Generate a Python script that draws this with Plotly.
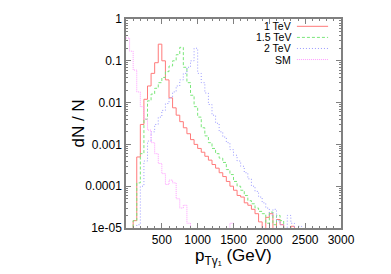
import numpy as np
import plotly.graph_objects as go

# bin left edges (GeV), 50 GeV bins
bin_edges = list(range(0, 2550, 50))

# dN/N per bin (0 = empty bin)
tev1 = [0, 0, 1.5e-5, 5e-4, 3e-3, 0.012, 0.025, 0.05, 0.09, 0.25,
        0.1, 0.035, 0.013, 0.0075, 0.005, 0.0035, 0.0025, 0.0018, 0.0013, 0.001,
        0.0008, 0.00065, 0.00052, 0.00042, 0.00033, 0.00027, 0.00021, 0.00017, 0.00013, 0.0001,
        8e-5, 6e-5, 5.5e-5, 4e-5, 3.5e-5, 2.8e-5, 2.2e-5, 1.4e-5, 0, 1.8e-5,
        2.2e-5, 0, 1.6e-5, 1.2e-5, 0, 0, 1.1e-5, 0, 0, 0]
tev15 = [0, 0, 1.5e-5, 1.2e-4, 6e-4, 0.004, 0.011, 0.016, 0.022, 0.03,
         0.04, 0.055, 0.075, 0.1, 0.14, 0.21, 0.07, 0.03, 0.015, 0.008,
         0.0045, 0.0025, 0.0016, 0.0011, 0.0008, 0.0006, 0.00047, 0.00037, 0.00025, 0.00019,
         0.00013, 1e-4, 8e-5, 6e-5, 4.5e-5, 3.8e-5, 3e-5, 2.5e-5, 2.2e-5, 1.3e-5,
         2.4e-5, 1.2e-5, 2e-5, 1.5e-5, 0, 0, 0, 0, 0, 0]
tev2 = [0, 0, 0, 1.2e-5, 1e-4, 4e-4, 1.2e-3, 2e-3, 3e-3, 4.5e-3,
        6.5e-3, 9.5e-3, 0.013, 0.018, 0.025, 0.035, 0.05, 0.07, 0.1, 0.2,
        0.05, 0.03, 0.017, 0.009, 0.005, 0.0032, 0.002, 0.0015, 0.0011, 0.00075,
        0.00055, 0.0004, 0.0003, 0.00021, 0.00015, 0.0001, 7.5e-5, 5.5e-5, 4e-5, 3e-5,
        2e-5, 2.8e-5, 1.5e-5, 1.2e-5, 0, 2e-5, 1.3e-5, 0, 1.1e-5, 0]
sm = [0.35, 0.17, 0.06, 0.018, 0.008, 0.004, 0.0022, 0.0011, 6e-4, 3.5e-4,
      2e-4, 1.1e-4, 1.4e-4, 1.2e-4, 5e-5, 3e-5, 3.5e-5, 1.3e-5, 0, 0,
      0, 0, 0, 0, 0, 0, 0, 0, 0, 1.3e-5,
      0, 0, 0, 0, 0, 0, 0, 0, 0, 0,
      0, 0, 0, 0, 0, 0, 0, 0, 0, 0]

series_names = ["1 TeV", "1.5 TeV", "2 TeV", "SM"]
series_vals = [tev1, tev15, tev2, sm]
colors = ["#ff7a7a", "#7ae67a", "#9a9aff", "#ff9cff"]
dashes = ["solid", "3px,2px", "1px,2px", "1px,1px"]

ytick_vals = [1, 0.1, 0.01, 0.001, 0.0001, 1e-5]
ytick_text = ["1", "0.1", "0.01", "0.001", "0.0001", "1e-05"]
xtick_vals = [500, 1000, 1500, 2000, 2500, 3000]

fig = go.Figure()
for name, vals, c, d in zip(series_names, series_vals, colors, dashes):
    n = len(vals)
    xs = bin_edges[:n] + [bin_edges[n - 1] + 50]
    ys = [v if v > 0 else 1e-9 for v in vals] + [1e-9]
    fig.add_trace(go.Scatter(x=xs, y=ys, mode="lines", line_shape="hv",
                             line=dict(color=c, width=1, dash=d),
                             name=name, showlegend=False, hoverinfo="skip"))

font = "Liberation Sans, Arial, sans-serif"
minor_y = [m * 10.0 ** e for e in range(-5, 0) for m in range(2, 10)]

fig.update_layout(
    width=391, height=274,
    margin=dict(l=126, r=50, t=14, b=46),
    paper_bgcolor="white", plot_bgcolor="white",
    font=dict(family=font, size=12, color="black"),
    xaxis=dict(range=[0, 3000], tickvals=xtick_vals, ticks="inside", ticklen=5,
               tickcolor="#808080", showline=True, linecolor="#808080", linewidth=1.5,
               mirror="ticks", showgrid=False, zeroline=False,
               minor=dict(dtick=100, ticks="inside", ticklen=2.5, tickcolor="#808080", showgrid=False),
               tickfont=dict(size=12)),
    yaxis=dict(type="log", range=[-5, 0], tickvals=ytick_vals, ticktext=ytick_text,
               ticks="inside", ticklen=5, tickcolor="#808080", showline=True,
               linecolor="#808080", linewidth=1.5, mirror="ticks", showgrid=False,
               zeroline=False,
               minor=dict(tickvals=minor_y, ticks="inside", ticklen=2.5, tickcolor="#808080", showgrid=False),
               tickfont=dict(size=12)),
)

# axis titles
fig.add_annotation(text="dN / N", x=-0.223, y=0.5, xref="paper", yref="paper",
                   textangle=-90, showarrow=False, font=dict(size=17),
                   xanchor="center", yanchor="middle")
fig.add_annotation(text="p<sub>Tγ₁</sub> (GeV)", x=0.5, y=-0.14, xref="paper", yref="paper",
                   showarrow=False, font=dict(size=17), xanchor="center", yanchor="middle")

# legend (text left of sample, as in reference)
leg_y = [0.965, 0.912, 0.859, 0.806]
for name, c, d, ly in zip(series_names, colors, dashes, leg_y):
    fig.add_annotation(text=name, x=0.772, y=ly, xref="paper", yref="paper",
                       showarrow=False, xanchor="right", yanchor="middle",
                       font=dict(size=10.5), borderpad=0)
    fig.add_shape(type="line", xref="paper", yref="paper", x0=0.795, x1=0.94, y0=ly, y1=ly,
                  line=dict(color=c, width=1, dash=d))

fig.write_html("out.html", post_script="document.body.style.margin='0px';",
               config={"displayModeBar": False})
